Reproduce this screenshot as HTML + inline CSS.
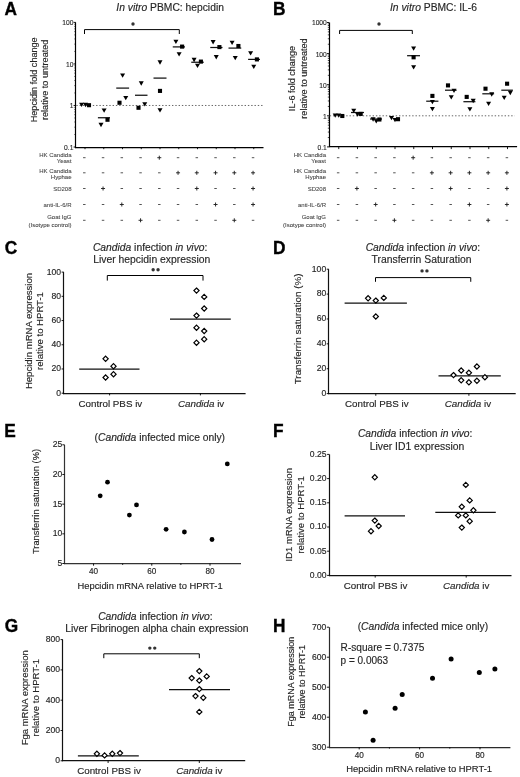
<!DOCTYPE html>
<html><head><meta charset="utf-8"><title>Figure</title>
<style>html,body{margin:0;padding:0;background:#fff;} body{width:520px;height:777px;overflow:hidden;} svg{display:block;will-change:transform;} text{font-family:"Liberation Sans", sans-serif;}</style>
</head><body>
<svg width="520" height="777" viewBox="0 0 520 777" font-family='"Liberation Sans", sans-serif'><line x1="75.50" y1="22.40" x2="75.50" y2="148.10" stroke="#000" stroke-width="1.2" />
<line x1="74.90" y1="147.50" x2="263.50" y2="147.50" stroke="#000" stroke-width="1.25" />
<line x1="73.60" y1="147.00" x2="75.80" y2="147.00" stroke="#000" stroke-width="0.9" />
<text x="73.40" y="149.90" font-size="6.7" text-anchor="end" fill="#262626" stroke="#262626" stroke-width="0.12" >0.1</text>
<line x1="74.40" y1="134.50" x2="75.80" y2="134.50" stroke="#000" stroke-width="0.7" />
<line x1="74.40" y1="127.18" x2="75.80" y2="127.18" stroke="#000" stroke-width="0.7" />
<line x1="74.40" y1="121.99" x2="75.80" y2="121.99" stroke="#000" stroke-width="0.7" />
<line x1="74.40" y1="117.97" x2="75.80" y2="117.97" stroke="#000" stroke-width="0.7" />
<line x1="74.40" y1="114.68" x2="75.80" y2="114.68" stroke="#000" stroke-width="0.7" />
<line x1="74.40" y1="111.90" x2="75.80" y2="111.90" stroke="#000" stroke-width="0.7" />
<line x1="74.40" y1="109.49" x2="75.80" y2="109.49" stroke="#000" stroke-width="0.7" />
<line x1="74.40" y1="107.37" x2="75.80" y2="107.37" stroke="#000" stroke-width="0.7" />
<line x1="73.60" y1="105.47" x2="75.80" y2="105.47" stroke="#000" stroke-width="0.9" />
<text x="73.40" y="108.37" font-size="6.7" text-anchor="end" fill="#262626" stroke="#262626" stroke-width="0.12" >1</text>
<line x1="74.40" y1="92.96" x2="75.80" y2="92.96" stroke="#000" stroke-width="0.7" />
<line x1="74.40" y1="85.65" x2="75.80" y2="85.65" stroke="#000" stroke-width="0.7" />
<line x1="74.40" y1="80.46" x2="75.80" y2="80.46" stroke="#000" stroke-width="0.7" />
<line x1="74.40" y1="76.44" x2="75.80" y2="76.44" stroke="#000" stroke-width="0.7" />
<line x1="74.40" y1="73.15" x2="75.80" y2="73.15" stroke="#000" stroke-width="0.7" />
<line x1="74.40" y1="70.37" x2="75.80" y2="70.37" stroke="#000" stroke-width="0.7" />
<line x1="74.40" y1="67.96" x2="75.80" y2="67.96" stroke="#000" stroke-width="0.7" />
<line x1="74.40" y1="65.83" x2="75.80" y2="65.83" stroke="#000" stroke-width="0.7" />
<line x1="73.60" y1="63.93" x2="75.80" y2="63.93" stroke="#000" stroke-width="0.9" />
<text x="73.40" y="66.83" font-size="6.7" text-anchor="end" fill="#262626" stroke="#262626" stroke-width="0.12" >10</text>
<line x1="74.40" y1="51.43" x2="75.80" y2="51.43" stroke="#000" stroke-width="0.7" />
<line x1="74.40" y1="44.12" x2="75.80" y2="44.12" stroke="#000" stroke-width="0.7" />
<line x1="74.40" y1="38.93" x2="75.80" y2="38.93" stroke="#000" stroke-width="0.7" />
<line x1="74.40" y1="34.90" x2="75.80" y2="34.90" stroke="#000" stroke-width="0.7" />
<line x1="74.40" y1="31.61" x2="75.80" y2="31.61" stroke="#000" stroke-width="0.7" />
<line x1="74.40" y1="28.83" x2="75.80" y2="28.83" stroke="#000" stroke-width="0.7" />
<line x1="74.40" y1="26.42" x2="75.80" y2="26.42" stroke="#000" stroke-width="0.7" />
<line x1="74.40" y1="24.30" x2="75.80" y2="24.30" stroke="#000" stroke-width="0.7" />
<line x1="73.60" y1="22.40" x2="75.80" y2="22.40" stroke="#000" stroke-width="0.9" />
<text x="73.40" y="25.30" font-size="6.7" text-anchor="end" fill="#262626" stroke="#262626" stroke-width="0.12" >100</text>
<line x1="85.00" y1="147.00" x2="85.00" y2="149.20" stroke="#000" stroke-width="0.9" />
<line x1="103.75" y1="147.00" x2="103.75" y2="149.20" stroke="#000" stroke-width="0.9" />
<line x1="122.50" y1="147.00" x2="122.50" y2="149.20" stroke="#000" stroke-width="0.9" />
<line x1="141.25" y1="147.00" x2="141.25" y2="149.20" stroke="#000" stroke-width="0.9" />
<line x1="160.00" y1="147.00" x2="160.00" y2="149.20" stroke="#000" stroke-width="0.9" />
<line x1="178.75" y1="147.00" x2="178.75" y2="149.20" stroke="#000" stroke-width="0.9" />
<line x1="197.50" y1="147.00" x2="197.50" y2="149.20" stroke="#000" stroke-width="0.9" />
<line x1="216.25" y1="147.00" x2="216.25" y2="149.20" stroke="#000" stroke-width="0.9" />
<line x1="235.00" y1="147.00" x2="235.00" y2="149.20" stroke="#000" stroke-width="0.9" />
<line x1="253.75" y1="147.00" x2="253.75" y2="149.20" stroke="#000" stroke-width="0.9" />
<line x1="76.30" y1="105.47" x2="263.00" y2="105.47" stroke="#666" stroke-width="1.0" stroke-dasharray="1.4 1.9"/>
<path d="M84.5 34V29.6H179.3V34" fill="none" stroke="#000" stroke-width="1"/>
<circle cx="133.00" cy="24.00" r="1.7" fill="#333"/>
<text x="116.30" y="11.00" font-size="10.3" text-anchor="start" fill="#262626" stroke="#262626" stroke-width="0.15" ><tspan font-style="italic">In vitro</tspan> PBMC: hepcidin</text>
<text x="36.60" y="79.80" font-size="9.1" text-anchor="middle" fill="#262626" stroke="#262626" stroke-width="0.15" transform="rotate(-90 36.60 79.80)" >Hepcidin fold change</text>
<text x="47.60" y="79.80" font-size="9.1" text-anchor="middle" fill="#262626" stroke="#262626" stroke-width="0.15" transform="rotate(-90 47.60 79.80)" >relative to untreated</text>
<text x="71.50" y="156.80" font-size="6.0" text-anchor="end" fill="#444" stroke="#444" stroke-width="0.08" >HK Candida</text>
<text x="71.50" y="163.40" font-size="6.0" text-anchor="end" fill="#444" stroke="#444" stroke-width="0.08" >Yeast</text>
<text x="71.50" y="172.60" font-size="6.0" text-anchor="end" fill="#444" stroke="#444" stroke-width="0.08" >HK Candida</text>
<text x="71.50" y="179.00" font-size="6.0" text-anchor="end" fill="#444" stroke="#444" stroke-width="0.08" >Hyphae</text>
<text x="71.50" y="191.10" font-size="6.0" text-anchor="end" fill="#444" stroke="#444" stroke-width="0.08" >SD208</text>
<text x="71.50" y="206.70" font-size="6.0" text-anchor="end" fill="#444" stroke="#444" stroke-width="0.08" >anti-IL-6/R</text>
<text x="71.50" y="218.60" font-size="6.0" text-anchor="end" fill="#444" stroke="#444" stroke-width="0.08" >Goat IgG</text>
<text x="71.50" y="226.50" font-size="6.0" text-anchor="end" fill="#444" stroke="#444" stroke-width="0.08" >(Isotype control)</text>
<line x1="83.05" y1="157.70" x2="85.55" y2="157.70" stroke="#555" stroke-width="1.0" />
<line x1="101.80" y1="157.70" x2="104.30" y2="157.70" stroke="#555" stroke-width="1.0" />
<line x1="120.55" y1="157.70" x2="123.05" y2="157.70" stroke="#555" stroke-width="1.0" />
<line x1="139.30" y1="157.70" x2="141.80" y2="157.70" stroke="#555" stroke-width="1.0" />
<line x1="157.30" y1="157.70" x2="161.30" y2="157.70" stroke="#222" stroke-width="0.95" />
<line x1="159.30" y1="155.70" x2="159.30" y2="159.70" stroke="#222" stroke-width="0.95" />
<line x1="176.80" y1="157.70" x2="179.30" y2="157.70" stroke="#555" stroke-width="1.0" />
<line x1="195.55" y1="157.70" x2="198.05" y2="157.70" stroke="#555" stroke-width="1.0" />
<line x1="214.30" y1="157.70" x2="216.80" y2="157.70" stroke="#555" stroke-width="1.0" />
<line x1="233.05" y1="157.70" x2="235.55" y2="157.70" stroke="#555" stroke-width="1.0" />
<line x1="251.80" y1="157.70" x2="254.30" y2="157.70" stroke="#555" stroke-width="1.0" />
<line x1="83.05" y1="172.80" x2="85.55" y2="172.80" stroke="#555" stroke-width="1.0" />
<line x1="101.80" y1="172.80" x2="104.30" y2="172.80" stroke="#555" stroke-width="1.0" />
<line x1="120.55" y1="172.80" x2="123.05" y2="172.80" stroke="#555" stroke-width="1.0" />
<line x1="139.30" y1="172.80" x2="141.80" y2="172.80" stroke="#555" stroke-width="1.0" />
<line x1="158.05" y1="172.80" x2="160.55" y2="172.80" stroke="#555" stroke-width="1.0" />
<line x1="176.05" y1="172.80" x2="180.05" y2="172.80" stroke="#222" stroke-width="0.95" />
<line x1="178.05" y1="170.80" x2="178.05" y2="174.80" stroke="#222" stroke-width="0.95" />
<line x1="194.80" y1="172.80" x2="198.80" y2="172.80" stroke="#222" stroke-width="0.95" />
<line x1="196.80" y1="170.80" x2="196.80" y2="174.80" stroke="#222" stroke-width="0.95" />
<line x1="213.55" y1="172.80" x2="217.55" y2="172.80" stroke="#222" stroke-width="0.95" />
<line x1="215.55" y1="170.80" x2="215.55" y2="174.80" stroke="#222" stroke-width="0.95" />
<line x1="232.30" y1="172.80" x2="236.30" y2="172.80" stroke="#222" stroke-width="0.95" />
<line x1="234.30" y1="170.80" x2="234.30" y2="174.80" stroke="#222" stroke-width="0.95" />
<line x1="251.05" y1="172.80" x2="255.05" y2="172.80" stroke="#222" stroke-width="0.95" />
<line x1="253.05" y1="170.80" x2="253.05" y2="174.80" stroke="#222" stroke-width="0.95" />
<line x1="83.05" y1="188.50" x2="85.55" y2="188.50" stroke="#555" stroke-width="1.0" />
<line x1="101.05" y1="188.50" x2="105.05" y2="188.50" stroke="#222" stroke-width="0.95" />
<line x1="103.05" y1="186.50" x2="103.05" y2="190.50" stroke="#222" stroke-width="0.95" />
<line x1="120.55" y1="188.50" x2="123.05" y2="188.50" stroke="#555" stroke-width="1.0" />
<line x1="139.30" y1="188.50" x2="141.80" y2="188.50" stroke="#555" stroke-width="1.0" />
<line x1="158.05" y1="188.50" x2="160.55" y2="188.50" stroke="#555" stroke-width="1.0" />
<line x1="176.80" y1="188.50" x2="179.30" y2="188.50" stroke="#555" stroke-width="1.0" />
<line x1="194.80" y1="188.50" x2="198.80" y2="188.50" stroke="#222" stroke-width="0.95" />
<line x1="196.80" y1="186.50" x2="196.80" y2="190.50" stroke="#222" stroke-width="0.95" />
<line x1="214.30" y1="188.50" x2="216.80" y2="188.50" stroke="#555" stroke-width="1.0" />
<line x1="233.05" y1="188.50" x2="235.55" y2="188.50" stroke="#555" stroke-width="1.0" />
<line x1="251.05" y1="188.50" x2="255.05" y2="188.50" stroke="#222" stroke-width="0.95" />
<line x1="253.05" y1="186.50" x2="253.05" y2="190.50" stroke="#222" stroke-width="0.95" />
<line x1="83.05" y1="204.50" x2="85.55" y2="204.50" stroke="#555" stroke-width="1.0" />
<line x1="101.80" y1="204.50" x2="104.30" y2="204.50" stroke="#555" stroke-width="1.0" />
<line x1="119.80" y1="204.50" x2="123.80" y2="204.50" stroke="#222" stroke-width="0.95" />
<line x1="121.80" y1="202.50" x2="121.80" y2="206.50" stroke="#222" stroke-width="0.95" />
<line x1="139.30" y1="204.50" x2="141.80" y2="204.50" stroke="#555" stroke-width="1.0" />
<line x1="158.05" y1="204.50" x2="160.55" y2="204.50" stroke="#555" stroke-width="1.0" />
<line x1="176.80" y1="204.50" x2="179.30" y2="204.50" stroke="#555" stroke-width="1.0" />
<line x1="195.55" y1="204.50" x2="198.05" y2="204.50" stroke="#555" stroke-width="1.0" />
<line x1="213.55" y1="204.50" x2="217.55" y2="204.50" stroke="#222" stroke-width="0.95" />
<line x1="215.55" y1="202.50" x2="215.55" y2="206.50" stroke="#222" stroke-width="0.95" />
<line x1="233.05" y1="204.50" x2="235.55" y2="204.50" stroke="#555" stroke-width="1.0" />
<line x1="251.05" y1="204.50" x2="255.05" y2="204.50" stroke="#222" stroke-width="0.95" />
<line x1="253.05" y1="202.50" x2="253.05" y2="206.50" stroke="#222" stroke-width="0.95" />
<line x1="83.05" y1="220.30" x2="85.55" y2="220.30" stroke="#555" stroke-width="1.0" />
<line x1="101.80" y1="220.30" x2="104.30" y2="220.30" stroke="#555" stroke-width="1.0" />
<line x1="120.55" y1="220.30" x2="123.05" y2="220.30" stroke="#555" stroke-width="1.0" />
<line x1="138.55" y1="220.30" x2="142.55" y2="220.30" stroke="#222" stroke-width="0.95" />
<line x1="140.55" y1="218.30" x2="140.55" y2="222.30" stroke="#222" stroke-width="0.95" />
<line x1="158.05" y1="220.30" x2="160.55" y2="220.30" stroke="#555" stroke-width="1.0" />
<line x1="176.80" y1="220.30" x2="179.30" y2="220.30" stroke="#555" stroke-width="1.0" />
<line x1="195.55" y1="220.30" x2="198.05" y2="220.30" stroke="#555" stroke-width="1.0" />
<line x1="214.30" y1="220.30" x2="216.80" y2="220.30" stroke="#555" stroke-width="1.0" />
<line x1="232.30" y1="220.30" x2="236.30" y2="220.30" stroke="#222" stroke-width="0.95" />
<line x1="234.30" y1="218.30" x2="234.30" y2="222.30" stroke="#222" stroke-width="0.95" />
<line x1="251.80" y1="220.30" x2="254.30" y2="220.30" stroke="#555" stroke-width="1.0" />
<line x1="97.90" y1="117.75" x2="110.00" y2="117.75" stroke="#111" stroke-width="1.25" />
<line x1="116.25" y1="88.10" x2="129.10" y2="88.10" stroke="#111" stroke-width="1.25" />
<line x1="135.00" y1="95.25" x2="147.50" y2="95.25" stroke="#111" stroke-width="1.25" />
<line x1="153.50" y1="78.10" x2="166.50" y2="78.10" stroke="#111" stroke-width="1.25" />
<line x1="172.75" y1="46.90" x2="185.00" y2="46.90" stroke="#111" stroke-width="1.25" />
<line x1="191.25" y1="62.25" x2="203.75" y2="62.25" stroke="#111" stroke-width="1.25" />
<line x1="210.25" y1="47.50" x2="222.50" y2="47.50" stroke="#111" stroke-width="1.25" />
<line x1="228.50" y1="48.10" x2="241.25" y2="48.10" stroke="#111" stroke-width="1.25" />
<line x1="248.10" y1="59.40" x2="260.00" y2="59.40" stroke="#111" stroke-width="1.25" />
<path d="M79.10 102.75H84.10L81.60 107.05Z" fill="#000"/>
<path d="M83.00 102.85H88.00L85.50 107.15Z" fill="#000"/>
<rect x="86.95" y="103.15" width="4.1" height="4.1" fill="#000"/>
<path d="M101.60 108.45H106.60L104.10 112.75Z" fill="#000"/>
<path d="M98.50 122.85H103.50L101.00 127.15Z" fill="#000"/>
<rect x="105.45" y="117.70" width="4.1" height="4.1" fill="#000"/>
<path d="M120.10 73.45H125.10L122.60 77.75Z" fill="#000"/>
<path d="M123.25 95.95H128.25L125.75 100.25Z" fill="#000"/>
<rect x="117.45" y="100.70" width="4.1" height="4.1" fill="#000"/>
<path d="M138.75 81.35H143.75L141.25 85.65Z" fill="#000"/>
<path d="M142.25 102.25H147.25L144.75 106.55Z" fill="#000"/>
<rect x="136.45" y="105.70" width="4.1" height="4.1" fill="#000"/>
<path d="M157.50 60.35H162.50L160.00 64.65Z" fill="#000"/>
<path d="M157.50 108.25H162.50L160.00 112.55Z" fill="#000"/>
<rect x="157.95" y="88.85" width="4.1" height="4.1" fill="#000"/>
<path d="M173.40 39.75H178.40L175.90 44.05Z" fill="#000"/>
<path d="M176.60 52.25H181.60L179.10 56.55Z" fill="#000"/>
<rect x="180.05" y="44.55" width="4.1" height="4.1" fill="#000"/>
<path d="M191.60 57.85H196.60L194.10 62.15Z" fill="#000"/>
<path d="M195.00 63.75H200.00L197.50 68.05Z" fill="#000"/>
<rect x="198.85" y="59.55" width="4.1" height="4.1" fill="#000"/>
<path d="M210.60 40.10H215.60L213.10 44.40Z" fill="#000"/>
<path d="M213.75 55.10H218.75L216.25 59.40Z" fill="#000"/>
<rect x="217.35" y="45.05" width="4.1" height="4.1" fill="#000"/>
<path d="M229.60 40.75H234.60L232.10 45.05Z" fill="#000"/>
<path d="M232.75 55.95H237.75L235.25 60.25Z" fill="#000"/>
<rect x="236.35" y="43.95" width="4.1" height="4.1" fill="#000"/>
<path d="M248.10 51.25H253.10L250.60 55.55Z" fill="#000"/>
<path d="M251.25 64.75H256.25L253.75 69.05Z" fill="#000"/>
<rect x="254.85" y="57.35" width="4.1" height="4.1" fill="#000"/>
<line x1="329.50" y1="22.50" x2="329.50" y2="147.10" stroke="#000" stroke-width="1.2" />
<line x1="328.90" y1="146.50" x2="517.10" y2="146.50" stroke="#000" stroke-width="1.25" />
<line x1="327.00" y1="146.90" x2="329.20" y2="146.90" stroke="#000" stroke-width="0.9" />
<text x="326.80" y="149.80" font-size="6.7" text-anchor="end" fill="#262626" stroke="#262626" stroke-width="0.12" >0.1</text>
<line x1="327.80" y1="137.54" x2="329.20" y2="137.54" stroke="#000" stroke-width="0.7" />
<line x1="327.80" y1="132.06" x2="329.20" y2="132.06" stroke="#000" stroke-width="0.7" />
<line x1="327.80" y1="128.18" x2="329.20" y2="128.18" stroke="#000" stroke-width="0.7" />
<line x1="327.80" y1="125.16" x2="329.20" y2="125.16" stroke="#000" stroke-width="0.7" />
<line x1="327.80" y1="122.70" x2="329.20" y2="122.70" stroke="#000" stroke-width="0.7" />
<line x1="327.80" y1="120.62" x2="329.20" y2="120.62" stroke="#000" stroke-width="0.7" />
<line x1="327.80" y1="118.81" x2="329.20" y2="118.81" stroke="#000" stroke-width="0.7" />
<line x1="327.80" y1="117.22" x2="329.20" y2="117.22" stroke="#000" stroke-width="0.7" />
<line x1="327.00" y1="115.80" x2="329.20" y2="115.80" stroke="#000" stroke-width="0.9" />
<text x="326.80" y="118.70" font-size="6.7" text-anchor="end" fill="#262626" stroke="#262626" stroke-width="0.12" >1</text>
<line x1="327.80" y1="106.44" x2="329.20" y2="106.44" stroke="#000" stroke-width="0.7" />
<line x1="327.80" y1="100.96" x2="329.20" y2="100.96" stroke="#000" stroke-width="0.7" />
<line x1="327.80" y1="97.08" x2="329.20" y2="97.08" stroke="#000" stroke-width="0.7" />
<line x1="327.80" y1="94.06" x2="329.20" y2="94.06" stroke="#000" stroke-width="0.7" />
<line x1="327.80" y1="91.60" x2="329.20" y2="91.60" stroke="#000" stroke-width="0.7" />
<line x1="327.80" y1="89.52" x2="329.20" y2="89.52" stroke="#000" stroke-width="0.7" />
<line x1="327.80" y1="87.71" x2="329.20" y2="87.71" stroke="#000" stroke-width="0.7" />
<line x1="327.80" y1="86.12" x2="329.20" y2="86.12" stroke="#000" stroke-width="0.7" />
<line x1="327.00" y1="84.70" x2="329.20" y2="84.70" stroke="#000" stroke-width="0.9" />
<text x="326.80" y="87.60" font-size="6.7" text-anchor="end" fill="#262626" stroke="#262626" stroke-width="0.12" >10</text>
<line x1="327.80" y1="75.34" x2="329.20" y2="75.34" stroke="#000" stroke-width="0.7" />
<line x1="327.80" y1="69.86" x2="329.20" y2="69.86" stroke="#000" stroke-width="0.7" />
<line x1="327.80" y1="65.98" x2="329.20" y2="65.98" stroke="#000" stroke-width="0.7" />
<line x1="327.80" y1="62.96" x2="329.20" y2="62.96" stroke="#000" stroke-width="0.7" />
<line x1="327.80" y1="60.50" x2="329.20" y2="60.50" stroke="#000" stroke-width="0.7" />
<line x1="327.80" y1="58.42" x2="329.20" y2="58.42" stroke="#000" stroke-width="0.7" />
<line x1="327.80" y1="56.61" x2="329.20" y2="56.61" stroke="#000" stroke-width="0.7" />
<line x1="327.80" y1="55.02" x2="329.20" y2="55.02" stroke="#000" stroke-width="0.7" />
<line x1="327.00" y1="53.60" x2="329.20" y2="53.60" stroke="#000" stroke-width="0.9" />
<text x="326.80" y="56.50" font-size="6.7" text-anchor="end" fill="#262626" stroke="#262626" stroke-width="0.12" >100</text>
<line x1="327.80" y1="44.24" x2="329.20" y2="44.24" stroke="#000" stroke-width="0.7" />
<line x1="327.80" y1="38.76" x2="329.20" y2="38.76" stroke="#000" stroke-width="0.7" />
<line x1="327.80" y1="34.88" x2="329.20" y2="34.88" stroke="#000" stroke-width="0.7" />
<line x1="327.80" y1="31.86" x2="329.20" y2="31.86" stroke="#000" stroke-width="0.7" />
<line x1="327.80" y1="29.40" x2="329.20" y2="29.40" stroke="#000" stroke-width="0.7" />
<line x1="327.80" y1="27.32" x2="329.20" y2="27.32" stroke="#000" stroke-width="0.7" />
<line x1="327.80" y1="25.51" x2="329.20" y2="25.51" stroke="#000" stroke-width="0.7" />
<line x1="327.80" y1="23.92" x2="329.20" y2="23.92" stroke="#000" stroke-width="0.7" />
<line x1="327.00" y1="22.50" x2="329.20" y2="22.50" stroke="#000" stroke-width="0.9" />
<text x="326.80" y="25.40" font-size="6.7" text-anchor="end" fill="#262626" stroke="#262626" stroke-width="0.12" >1000</text>
<line x1="338.75" y1="146.90" x2="338.75" y2="149.10" stroke="#000" stroke-width="0.9" />
<line x1="357.50" y1="146.90" x2="357.50" y2="149.10" stroke="#000" stroke-width="0.9" />
<line x1="376.25" y1="146.90" x2="376.25" y2="149.10" stroke="#000" stroke-width="0.9" />
<line x1="395.00" y1="146.90" x2="395.00" y2="149.10" stroke="#000" stroke-width="0.9" />
<line x1="413.75" y1="146.90" x2="413.75" y2="149.10" stroke="#000" stroke-width="0.9" />
<line x1="432.50" y1="146.90" x2="432.50" y2="149.10" stroke="#000" stroke-width="0.9" />
<line x1="451.25" y1="146.90" x2="451.25" y2="149.10" stroke="#000" stroke-width="0.9" />
<line x1="470.00" y1="146.90" x2="470.00" y2="149.10" stroke="#000" stroke-width="0.9" />
<line x1="488.75" y1="146.90" x2="488.75" y2="149.10" stroke="#000" stroke-width="0.9" />
<line x1="507.50" y1="146.90" x2="507.50" y2="149.10" stroke="#000" stroke-width="0.9" />
<line x1="329.70" y1="115.80" x2="514.70" y2="115.80" stroke="#666" stroke-width="1.0" stroke-dasharray="1.4 1.9"/>
<path d="M339.6 34V30.4H412.3V34" fill="none" stroke="#000" stroke-width="1"/>
<circle cx="379.00" cy="24.00" r="1.7" fill="#333"/>
<text x="390.00" y="11.00" font-size="10.3" text-anchor="start" fill="#262626" stroke="#262626" stroke-width="0.15" ><tspan font-style="italic">In vitro</tspan> PBMC: IL-6</text>
<text x="295.10" y="78.50" font-size="9.1" text-anchor="middle" fill="#262626" stroke="#262626" stroke-width="0.15" transform="rotate(-90 295.10 78.50)" >IL-6 fold change</text>
<text x="307.40" y="78.50" font-size="9.1" text-anchor="middle" fill="#262626" stroke="#262626" stroke-width="0.15" transform="rotate(-90 307.40 78.50)" >relative to untreated</text>
<text x="326.00" y="156.80" font-size="6.0" text-anchor="end" fill="#444" stroke="#444" stroke-width="0.08" >HK Candida</text>
<text x="326.00" y="163.40" font-size="6.0" text-anchor="end" fill="#444" stroke="#444" stroke-width="0.08" >Yeast</text>
<text x="326.00" y="172.60" font-size="6.0" text-anchor="end" fill="#444" stroke="#444" stroke-width="0.08" >HK Candida</text>
<text x="326.00" y="179.00" font-size="6.0" text-anchor="end" fill="#444" stroke="#444" stroke-width="0.08" >Hyphae</text>
<text x="326.00" y="191.10" font-size="6.0" text-anchor="end" fill="#444" stroke="#444" stroke-width="0.08" >SD208</text>
<text x="326.00" y="206.70" font-size="6.0" text-anchor="end" fill="#444" stroke="#444" stroke-width="0.08" >anti-IL-6/R</text>
<text x="326.00" y="218.60" font-size="6.0" text-anchor="end" fill="#444" stroke="#444" stroke-width="0.08" >Goat IgG</text>
<text x="326.00" y="226.50" font-size="6.0" text-anchor="end" fill="#444" stroke="#444" stroke-width="0.08" >(Isotype control)</text>
<line x1="336.90" y1="157.70" x2="339.40" y2="157.70" stroke="#555" stroke-width="1.0" />
<line x1="355.65" y1="157.70" x2="358.15" y2="157.70" stroke="#555" stroke-width="1.0" />
<line x1="374.40" y1="157.70" x2="376.90" y2="157.70" stroke="#555" stroke-width="1.0" />
<line x1="393.15" y1="157.70" x2="395.65" y2="157.70" stroke="#555" stroke-width="1.0" />
<line x1="411.15" y1="157.70" x2="415.15" y2="157.70" stroke="#222" stroke-width="0.95" />
<line x1="413.15" y1="155.70" x2="413.15" y2="159.70" stroke="#222" stroke-width="0.95" />
<line x1="430.65" y1="157.70" x2="433.15" y2="157.70" stroke="#555" stroke-width="1.0" />
<line x1="449.40" y1="157.70" x2="451.90" y2="157.70" stroke="#555" stroke-width="1.0" />
<line x1="468.15" y1="157.70" x2="470.65" y2="157.70" stroke="#555" stroke-width="1.0" />
<line x1="486.90" y1="157.70" x2="489.40" y2="157.70" stroke="#555" stroke-width="1.0" />
<line x1="505.65" y1="157.70" x2="508.15" y2="157.70" stroke="#555" stroke-width="1.0" />
<line x1="336.90" y1="172.80" x2="339.40" y2="172.80" stroke="#555" stroke-width="1.0" />
<line x1="355.65" y1="172.80" x2="358.15" y2="172.80" stroke="#555" stroke-width="1.0" />
<line x1="374.40" y1="172.80" x2="376.90" y2="172.80" stroke="#555" stroke-width="1.0" />
<line x1="393.15" y1="172.80" x2="395.65" y2="172.80" stroke="#555" stroke-width="1.0" />
<line x1="411.90" y1="172.80" x2="414.40" y2="172.80" stroke="#555" stroke-width="1.0" />
<line x1="429.90" y1="172.80" x2="433.90" y2="172.80" stroke="#222" stroke-width="0.95" />
<line x1="431.90" y1="170.80" x2="431.90" y2="174.80" stroke="#222" stroke-width="0.95" />
<line x1="448.65" y1="172.80" x2="452.65" y2="172.80" stroke="#222" stroke-width="0.95" />
<line x1="450.65" y1="170.80" x2="450.65" y2="174.80" stroke="#222" stroke-width="0.95" />
<line x1="467.40" y1="172.80" x2="471.40" y2="172.80" stroke="#222" stroke-width="0.95" />
<line x1="469.40" y1="170.80" x2="469.40" y2="174.80" stroke="#222" stroke-width="0.95" />
<line x1="486.15" y1="172.80" x2="490.15" y2="172.80" stroke="#222" stroke-width="0.95" />
<line x1="488.15" y1="170.80" x2="488.15" y2="174.80" stroke="#222" stroke-width="0.95" />
<line x1="504.90" y1="172.80" x2="508.90" y2="172.80" stroke="#222" stroke-width="0.95" />
<line x1="506.90" y1="170.80" x2="506.90" y2="174.80" stroke="#222" stroke-width="0.95" />
<line x1="336.90" y1="188.50" x2="339.40" y2="188.50" stroke="#555" stroke-width="1.0" />
<line x1="354.90" y1="188.50" x2="358.90" y2="188.50" stroke="#222" stroke-width="0.95" />
<line x1="356.90" y1="186.50" x2="356.90" y2="190.50" stroke="#222" stroke-width="0.95" />
<line x1="374.40" y1="188.50" x2="376.90" y2="188.50" stroke="#555" stroke-width="1.0" />
<line x1="393.15" y1="188.50" x2="395.65" y2="188.50" stroke="#555" stroke-width="1.0" />
<line x1="411.90" y1="188.50" x2="414.40" y2="188.50" stroke="#555" stroke-width="1.0" />
<line x1="430.65" y1="188.50" x2="433.15" y2="188.50" stroke="#555" stroke-width="1.0" />
<line x1="448.65" y1="188.50" x2="452.65" y2="188.50" stroke="#222" stroke-width="0.95" />
<line x1="450.65" y1="186.50" x2="450.65" y2="190.50" stroke="#222" stroke-width="0.95" />
<line x1="468.15" y1="188.50" x2="470.65" y2="188.50" stroke="#555" stroke-width="1.0" />
<line x1="486.90" y1="188.50" x2="489.40" y2="188.50" stroke="#555" stroke-width="1.0" />
<line x1="504.90" y1="188.50" x2="508.90" y2="188.50" stroke="#222" stroke-width="0.95" />
<line x1="506.90" y1="186.50" x2="506.90" y2="190.50" stroke="#222" stroke-width="0.95" />
<line x1="336.90" y1="204.50" x2="339.40" y2="204.50" stroke="#555" stroke-width="1.0" />
<line x1="355.65" y1="204.50" x2="358.15" y2="204.50" stroke="#555" stroke-width="1.0" />
<line x1="373.65" y1="204.50" x2="377.65" y2="204.50" stroke="#222" stroke-width="0.95" />
<line x1="375.65" y1="202.50" x2="375.65" y2="206.50" stroke="#222" stroke-width="0.95" />
<line x1="393.15" y1="204.50" x2="395.65" y2="204.50" stroke="#555" stroke-width="1.0" />
<line x1="411.90" y1="204.50" x2="414.40" y2="204.50" stroke="#555" stroke-width="1.0" />
<line x1="430.65" y1="204.50" x2="433.15" y2="204.50" stroke="#555" stroke-width="1.0" />
<line x1="449.40" y1="204.50" x2="451.90" y2="204.50" stroke="#555" stroke-width="1.0" />
<line x1="467.40" y1="204.50" x2="471.40" y2="204.50" stroke="#222" stroke-width="0.95" />
<line x1="469.40" y1="202.50" x2="469.40" y2="206.50" stroke="#222" stroke-width="0.95" />
<line x1="486.90" y1="204.50" x2="489.40" y2="204.50" stroke="#555" stroke-width="1.0" />
<line x1="504.90" y1="204.50" x2="508.90" y2="204.50" stroke="#222" stroke-width="0.95" />
<line x1="506.90" y1="202.50" x2="506.90" y2="206.50" stroke="#222" stroke-width="0.95" />
<line x1="336.90" y1="220.30" x2="339.40" y2="220.30" stroke="#555" stroke-width="1.0" />
<line x1="355.65" y1="220.30" x2="358.15" y2="220.30" stroke="#555" stroke-width="1.0" />
<line x1="374.40" y1="220.30" x2="376.90" y2="220.30" stroke="#555" stroke-width="1.0" />
<line x1="392.40" y1="220.30" x2="396.40" y2="220.30" stroke="#222" stroke-width="0.95" />
<line x1="394.40" y1="218.30" x2="394.40" y2="222.30" stroke="#222" stroke-width="0.95" />
<line x1="411.90" y1="220.30" x2="414.40" y2="220.30" stroke="#555" stroke-width="1.0" />
<line x1="430.65" y1="220.30" x2="433.15" y2="220.30" stroke="#555" stroke-width="1.0" />
<line x1="449.40" y1="220.30" x2="451.90" y2="220.30" stroke="#555" stroke-width="1.0" />
<line x1="468.15" y1="220.30" x2="470.65" y2="220.30" stroke="#555" stroke-width="1.0" />
<line x1="486.15" y1="220.30" x2="490.15" y2="220.30" stroke="#222" stroke-width="0.95" />
<line x1="488.15" y1="218.30" x2="488.15" y2="222.30" stroke="#222" stroke-width="0.95" />
<line x1="505.65" y1="220.30" x2="508.15" y2="220.30" stroke="#555" stroke-width="1.0" />
<line x1="351.00" y1="112.50" x2="364.00" y2="112.50" stroke="#111" stroke-width="1.25" />
<line x1="370.00" y1="119.00" x2="382.00" y2="119.00" stroke="#111" stroke-width="1.25" />
<line x1="407.10" y1="55.70" x2="420.00" y2="55.70" stroke="#111" stroke-width="1.25" />
<line x1="426.20" y1="101.20" x2="438.40" y2="101.20" stroke="#111" stroke-width="1.25" />
<line x1="445.00" y1="90.20" x2="456.60" y2="90.20" stroke="#111" stroke-width="1.25" />
<line x1="463.40" y1="101.70" x2="475.40" y2="101.70" stroke="#111" stroke-width="1.25" />
<line x1="482.30" y1="93.80" x2="494.10" y2="93.80" stroke="#111" stroke-width="1.25" />
<line x1="501.30" y1="90.20" x2="512.90" y2="90.20" stroke="#111" stroke-width="1.25" />
<path d="M332.70 113.45H337.70L335.20 117.75Z" fill="#000"/>
<path d="M336.25 113.45H341.25L338.75 117.75Z" fill="#000"/>
<rect x="340.25" y="113.95" width="4.1" height="4.1" fill="#000"/>
<path d="M351.25 108.75H356.25L353.75 113.05Z" fill="#000"/>
<path d="M355.00 112.45H360.00L357.50 116.75Z" fill="#000"/>
<rect x="358.65" y="111.85" width="4.1" height="4.1" fill="#000"/>
<path d="M370.60 117.35H375.60L373.10 121.65Z" fill="#000"/>
<path d="M373.75 119.15H378.75L376.25 123.45Z" fill="#000"/>
<rect x="377.35" y="117.45" width="4.1" height="4.1" fill="#000"/>
<path d="M389.00 116.05H394.00L391.50 120.35Z" fill="#000"/>
<path d="M392.50 118.05H397.50L395.00 122.35Z" fill="#000"/>
<rect x="395.95" y="117.15" width="4.1" height="4.1" fill="#000"/>
<path d="M411.10 46.55H416.10L413.60 50.85Z" fill="#000"/>
<rect x="411.55" y="55.25" width="4.1" height="4.1" fill="#000"/>
<path d="M411.10 65.15H416.10L413.60 69.45Z" fill="#000"/>
<rect x="430.35" y="93.85" width="4.1" height="4.1" fill="#000"/>
<path d="M429.90 99.95H434.90L432.40 104.25Z" fill="#000"/>
<path d="M429.90 107.05H434.90L432.40 111.35Z" fill="#000"/>
<rect x="445.95" y="83.35" width="4.1" height="4.1" fill="#000"/>
<path d="M451.50 88.75H456.50L454.00 93.05Z" fill="#000"/>
<path d="M448.75 95.25H453.75L451.25 99.55Z" fill="#000"/>
<rect x="464.65" y="94.85" width="4.1" height="4.1" fill="#000"/>
<path d="M470.70 98.85H475.70L473.20 103.15Z" fill="#000"/>
<path d="M467.40 107.15H472.40L469.90 111.45Z" fill="#000"/>
<rect x="483.45" y="86.65" width="4.1" height="4.1" fill="#000"/>
<path d="M489.20 92.35H494.20L491.70 96.65Z" fill="#000"/>
<path d="M486.10 101.75H491.10L488.60 106.05Z" fill="#000"/>
<rect x="505.05" y="81.65" width="4.1" height="4.1" fill="#000"/>
<path d="M507.80 90.85H512.80L510.30 95.15Z" fill="#000"/>
<path d="M501.70 95.65H506.70L504.20 99.95Z" fill="#000"/>
<text transform="translate(4.40 15.20) scale(1 1.08)" font-size="17.3" font-weight="bold" fill="#000" style="stroke:#000;stroke-width:0.35px">A</text>
<text transform="translate(273.10 15.40) scale(1 1.08)" font-size="17.3" font-weight="bold" fill="#000" style="stroke:#000;stroke-width:0.35px">B</text>
<text transform="translate(4.70 253.80) scale(1 1.08)" font-size="17.3" font-weight="bold" fill="#000" style="stroke:#000;stroke-width:0.35px">C</text>
<text x="150.15" y="250.50" font-size="10.3" text-anchor="middle" fill="#262626" stroke="#262626" stroke-width="0.15" ><tspan font-style="italic">Candida</tspan> infection <tspan font-style="italic">in vivo</tspan>:</text>
<text x="151.70" y="262.90" font-size="10.38" text-anchor="middle" fill="#262626" stroke="#262626" stroke-width="0.15" >Liver hepcidin expression</text>
<line x1="63.50" y1="272.10" x2="63.50" y2="394.10" stroke="#111" stroke-width="1.2" />
<line x1="62.90" y1="393.50" x2="245.60" y2="393.50" stroke="#111" stroke-width="1.25" />
<line x1="61.60" y1="393.20" x2="63.80" y2="393.20" stroke="#000" stroke-width="0.9" />
<text x="61.10" y="395.60" font-size="8.6" text-anchor="end" fill="#262626" stroke="#262626" stroke-width="0.15" >0</text>
<line x1="61.60" y1="368.98" x2="63.80" y2="368.98" stroke="#000" stroke-width="0.9" />
<text x="61.10" y="371.38" font-size="8.6" text-anchor="end" fill="#262626" stroke="#262626" stroke-width="0.15" >20</text>
<line x1="61.60" y1="344.76" x2="63.80" y2="344.76" stroke="#000" stroke-width="0.9" />
<text x="61.10" y="347.16" font-size="8.6" text-anchor="end" fill="#262626" stroke="#262626" stroke-width="0.15" >40</text>
<line x1="61.60" y1="320.54" x2="63.80" y2="320.54" stroke="#000" stroke-width="0.9" />
<text x="61.10" y="322.94" font-size="8.6" text-anchor="end" fill="#262626" stroke="#262626" stroke-width="0.15" >60</text>
<line x1="61.60" y1="296.32" x2="63.80" y2="296.32" stroke="#000" stroke-width="0.9" />
<text x="61.10" y="298.72" font-size="8.6" text-anchor="end" fill="#262626" stroke="#262626" stroke-width="0.15" >80</text>
<line x1="61.60" y1="272.10" x2="63.80" y2="272.10" stroke="#000" stroke-width="0.9" />
<text x="61.10" y="274.50" font-size="8.6" text-anchor="end" fill="#262626" stroke="#262626" stroke-width="0.15" >100</text>
<text x="32.10" y="331.00" font-size="9.55" text-anchor="middle" fill="#262626" stroke="#262626" stroke-width="0.15" transform="rotate(-90 32.10 331.00)" >Hepcidin mRNA expression</text>
<text x="43.30" y="331.00" font-size="9.55" text-anchor="middle" fill="#262626" stroke="#262626" stroke-width="0.15" transform="rotate(-90 43.30 331.00)" >relative to HPRT-1</text>
<path d="M107.3 280.6V275.5H203V280.6" fill="none" stroke="#000" stroke-width="1"/>
<circle cx="153.15" cy="269.80" r="1.7" fill="#333"/>
<circle cx="158.05" cy="269.80" r="1.7" fill="#333"/>
<line x1="109.60" y1="393.20" x2="109.60" y2="395.40" stroke="#000" stroke-width="0.9" />
<text x="110.40" y="406.70" font-size="9.8" text-anchor="middle" fill="#262626" stroke="#262626" stroke-width="0.15" >Control PBS iv</text>
<line x1="200.40" y1="393.20" x2="200.40" y2="395.40" stroke="#000" stroke-width="0.9" />
<text x="201.10" y="406.70" font-size="9.8" text-anchor="middle" fill="#262626" stroke="#262626" stroke-width="0.15" ><tspan font-style="italic">Candida</tspan> iv</text>
<line x1="79.20" y1="369.00" x2="139.50" y2="369.00" stroke="#111" stroke-width="1.25" />
<line x1="170.00" y1="319.00" x2="230.80" y2="319.00" stroke="#111" stroke-width="1.25" />
<path d="M105.60 356.20L108.20 358.80L105.60 361.40L103.00 358.80Z" fill="#fff" stroke="#000" stroke-width="1.2"/>
<path d="M113.50 363.60L116.10 366.20L113.50 368.80L110.90 366.20Z" fill="#fff" stroke="#000" stroke-width="1.2"/>
<path d="M113.50 371.60L116.10 374.20L113.50 376.80L110.90 374.20Z" fill="#fff" stroke="#000" stroke-width="1.2"/>
<path d="M105.60 374.90L108.20 377.50L105.60 380.10L103.00 377.50Z" fill="#fff" stroke="#000" stroke-width="1.2"/>
<path d="M196.50 288.00L199.10 290.60L196.50 293.20L193.90 290.60Z" fill="#fff" stroke="#000" stroke-width="1.2"/>
<path d="M204.20 294.30L206.80 296.90L204.20 299.50L201.60 296.90Z" fill="#fff" stroke="#000" stroke-width="1.2"/>
<path d="M204.20 305.90L206.80 308.50L204.20 311.10L201.60 308.50Z" fill="#fff" stroke="#000" stroke-width="1.2"/>
<path d="M196.50 313.00L199.10 315.60L196.50 318.20L193.90 315.60Z" fill="#fff" stroke="#000" stroke-width="1.2"/>
<path d="M196.50 325.10L199.10 327.70L196.50 330.30L193.90 327.70Z" fill="#fff" stroke="#000" stroke-width="1.2"/>
<path d="M204.20 328.40L206.80 331.00L204.20 333.60L201.60 331.00Z" fill="#fff" stroke="#000" stroke-width="1.2"/>
<path d="M204.20 336.60L206.80 339.20L204.20 341.80L201.60 339.20Z" fill="#fff" stroke="#000" stroke-width="1.2"/>
<path d="M196.50 340.10L199.10 342.70L196.50 345.30L193.90 342.70Z" fill="#fff" stroke="#000" stroke-width="1.2"/>
<text transform="translate(273.10 254.10) scale(1 1.08)" font-size="17.3" font-weight="bold" fill="#000" style="stroke:#000;stroke-width:0.35px">D</text>
<text x="422.90" y="250.70" font-size="10.3" text-anchor="middle" fill="#262626" stroke="#262626" stroke-width="0.15" ><tspan font-style="italic">Candida</tspan> infection <tspan font-style="italic">in vivo</tspan>:</text>
<text x="421.55" y="262.90" font-size="10.38" text-anchor="middle" fill="#262626" stroke="#262626" stroke-width="0.15" >Transferrin Saturation</text>
<line x1="328.50" y1="269.20" x2="328.50" y2="394.10" stroke="#111" stroke-width="1.2" />
<line x1="327.90" y1="393.50" x2="515.70" y2="393.50" stroke="#111" stroke-width="1.25" />
<line x1="326.70" y1="393.60" x2="328.90" y2="393.60" stroke="#000" stroke-width="0.9" />
<text x="326.20" y="396.00" font-size="8.6" text-anchor="end" fill="#262626" stroke="#262626" stroke-width="0.15" >0</text>
<line x1="326.70" y1="368.72" x2="328.90" y2="368.72" stroke="#000" stroke-width="0.9" />
<text x="326.20" y="371.12" font-size="8.6" text-anchor="end" fill="#262626" stroke="#262626" stroke-width="0.15" >20</text>
<line x1="326.70" y1="343.84" x2="328.90" y2="343.84" stroke="#000" stroke-width="0.9" />
<text x="326.20" y="346.24" font-size="8.6" text-anchor="end" fill="#262626" stroke="#262626" stroke-width="0.15" >40</text>
<line x1="326.70" y1="318.96" x2="328.90" y2="318.96" stroke="#000" stroke-width="0.9" />
<text x="326.20" y="321.36" font-size="8.6" text-anchor="end" fill="#262626" stroke="#262626" stroke-width="0.15" >60</text>
<line x1="326.70" y1="294.08" x2="328.90" y2="294.08" stroke="#000" stroke-width="0.9" />
<text x="326.20" y="296.48" font-size="8.6" text-anchor="end" fill="#262626" stroke="#262626" stroke-width="0.15" >80</text>
<line x1="326.70" y1="269.20" x2="328.90" y2="269.20" stroke="#000" stroke-width="0.9" />
<text x="326.20" y="271.60" font-size="8.6" text-anchor="end" fill="#262626" stroke="#262626" stroke-width="0.15" >100</text>
<text x="301.20" y="328.90" font-size="9.8" text-anchor="middle" fill="#262626" stroke="#262626" stroke-width="0.15" transform="rotate(-90 301.20 328.90)" >Transferrin saturation (%)</text>
<path d="M375.5 281.8V277.6H470.75V281.8" fill="none" stroke="#000" stroke-width="1"/>
<circle cx="422.05" cy="270.90" r="1.7" fill="#333"/>
<circle cx="426.95" cy="270.90" r="1.7" fill="#333"/>
<line x1="375.80" y1="393.60" x2="375.80" y2="395.80" stroke="#000" stroke-width="0.9" />
<text x="376.80" y="406.80" font-size="9.8" text-anchor="middle" fill="#262626" stroke="#262626" stroke-width="0.15" >Control PBS iv</text>
<line x1="468.90" y1="393.60" x2="468.90" y2="395.80" stroke="#000" stroke-width="0.9" />
<text x="467.90" y="406.80" font-size="9.8" text-anchor="middle" fill="#262626" stroke="#262626" stroke-width="0.15" ><tspan font-style="italic">Candida</tspan> iv</text>
<line x1="344.60" y1="303.10" x2="406.90" y2="303.10" stroke="#111" stroke-width="1.25" />
<line x1="438.50" y1="375.80" x2="500.80" y2="375.80" stroke="#111" stroke-width="1.25" />
<path d="M368.10 295.70L370.70 298.30L368.10 300.90L365.50 298.30Z" fill="#fff" stroke="#000" stroke-width="1.2"/>
<path d="M375.80 298.00L378.40 300.60L375.80 303.20L373.20 300.60Z" fill="#fff" stroke="#000" stroke-width="1.2"/>
<path d="M383.80 295.30L386.40 297.90L383.80 300.50L381.20 297.90Z" fill="#fff" stroke="#000" stroke-width="1.2"/>
<path d="M375.80 313.90L378.40 316.50L375.80 319.10L373.20 316.50Z" fill="#fff" stroke="#000" stroke-width="1.2"/>
<path d="M453.50 372.50L456.10 375.10L453.50 377.70L450.90 375.10Z" fill="#fff" stroke="#000" stroke-width="1.2"/>
<path d="M461.20 367.90L463.80 370.50L461.20 373.10L458.60 370.50Z" fill="#fff" stroke="#000" stroke-width="1.2"/>
<path d="M461.20 377.70L463.80 380.30L461.20 382.90L458.60 380.30Z" fill="#fff" stroke="#000" stroke-width="1.2"/>
<path d="M468.90 370.20L471.50 372.80L468.90 375.40L466.30 372.80Z" fill="#fff" stroke="#000" stroke-width="1.2"/>
<path d="M468.90 379.70L471.50 382.30L468.90 384.90L466.30 382.30Z" fill="#fff" stroke="#000" stroke-width="1.2"/>
<path d="M476.90 363.90L479.50 366.50L476.90 369.10L474.30 366.50Z" fill="#fff" stroke="#000" stroke-width="1.2"/>
<path d="M476.90 378.20L479.50 380.80L476.90 383.40L474.30 380.80Z" fill="#fff" stroke="#000" stroke-width="1.2"/>
<path d="M484.90 374.60L487.50 377.20L484.90 379.80L482.30 377.20Z" fill="#fff" stroke="#000" stroke-width="1.2"/>
<text transform="translate(4.30 437.40) scale(1 1.08)" font-size="17.3" font-weight="bold" fill="#000" style="stroke:#000;stroke-width:0.35px">E</text>
<text x="159.80" y="441.00" font-size="10.3" text-anchor="middle" fill="#262626" stroke="#262626" stroke-width="0.15" >(<tspan font-style="italic">Candida</tspan> infected mice only)</text>
<line x1="64.50" y1="444.80" x2="64.50" y2="564.10" stroke="#333" stroke-width="1.2" />
<line x1="63.90" y1="563.50" x2="241.00" y2="563.50" stroke="#333" stroke-width="1.25" />
<line x1="62.30" y1="563.50" x2="64.50" y2="563.50" stroke="#000" stroke-width="0.9" />
<text x="62.40" y="565.90" font-size="8.6" text-anchor="end" fill="#262626" stroke="#262626" stroke-width="0.15" >5</text>
<line x1="62.30" y1="533.83" x2="64.50" y2="533.83" stroke="#000" stroke-width="0.9" />
<text x="62.40" y="536.23" font-size="8.6" text-anchor="end" fill="#262626" stroke="#262626" stroke-width="0.15" >10</text>
<line x1="62.30" y1="504.15" x2="64.50" y2="504.15" stroke="#000" stroke-width="0.9" />
<text x="62.40" y="506.55" font-size="8.6" text-anchor="end" fill="#262626" stroke="#262626" stroke-width="0.15" >15</text>
<line x1="62.30" y1="474.48" x2="64.50" y2="474.48" stroke="#000" stroke-width="0.9" />
<text x="62.40" y="476.88" font-size="8.6" text-anchor="end" fill="#262626" stroke="#262626" stroke-width="0.15" >20</text>
<line x1="62.30" y1="444.80" x2="64.50" y2="444.80" stroke="#000" stroke-width="0.9" />
<text x="62.40" y="447.20" font-size="8.6" text-anchor="end" fill="#262626" stroke="#262626" stroke-width="0.15" >25</text>
<line x1="93.56" y1="563.50" x2="93.56" y2="565.70" stroke="#000" stroke-width="0.9" />
<text x="93.56" y="573.80" font-size="8.2" text-anchor="middle" fill="#262626" stroke="#262626" stroke-width="0.15" >40</text>
<line x1="151.78" y1="563.50" x2="151.78" y2="565.70" stroke="#000" stroke-width="0.9" />
<text x="151.78" y="573.80" font-size="8.2" text-anchor="middle" fill="#262626" stroke="#262626" stroke-width="0.15" >60</text>
<line x1="210.00" y1="563.50" x2="210.00" y2="565.70" stroke="#000" stroke-width="0.9" />
<text x="210.00" y="573.80" font-size="8.2" text-anchor="middle" fill="#262626" stroke="#262626" stroke-width="0.15" >80</text>
<line x1="122.67" y1="563.50" x2="122.67" y2="565.00" stroke="#000" stroke-width="0.8" />
<line x1="180.89" y1="563.50" x2="180.89" y2="565.00" stroke="#000" stroke-width="0.8" />
<text x="150.05" y="588.50" font-size="9.4" text-anchor="middle" fill="#262626" stroke="#262626" stroke-width="0.15" >Hepcidin mRNA relative to HPRT-1</text>
<text x="39.10" y="501.50" font-size="9.3" text-anchor="middle" fill="#262626" stroke="#262626" stroke-width="0.15" transform="rotate(-90 39.10 501.50)" >Transferrin saturation (%)</text>
<circle cx="100.20" cy="495.80" r="2.4" fill="#000"/>
<circle cx="107.50" cy="482.20" r="2.4" fill="#000"/>
<circle cx="129.40" cy="515.10" r="2.4" fill="#000"/>
<circle cx="136.50" cy="504.90" r="2.4" fill="#000"/>
<circle cx="166.10" cy="529.30" r="2.4" fill="#000"/>
<circle cx="184.40" cy="532.00" r="2.4" fill="#000"/>
<circle cx="212.00" cy="539.50" r="2.4" fill="#000"/>
<circle cx="227.30" cy="463.90" r="2.4" fill="#000"/>
<text transform="translate(273.10 437.40) scale(1 1.08)" font-size="17.3" font-weight="bold" fill="#000" style="stroke:#000;stroke-width:0.35px">F</text>
<text x="415.20" y="437.20" font-size="10.3" text-anchor="middle" fill="#262626" stroke="#262626" stroke-width="0.15" ><tspan font-style="italic">Candida</tspan> infection <tspan font-style="italic">in vivo</tspan>:</text>
<text x="417.00" y="449.60" font-size="10.38" text-anchor="middle" fill="#262626" stroke="#262626" stroke-width="0.15" >Liver ID1 expression</text>
<line x1="329.50" y1="454.40" x2="329.50" y2="576.10" stroke="#111" stroke-width="1.2" />
<line x1="328.90" y1="575.50" x2="511.50" y2="575.50" stroke="#111" stroke-width="1.25" />
<line x1="327.10" y1="575.40" x2="329.30" y2="575.40" stroke="#000" stroke-width="0.9" />
<text x="326.60" y="577.80" font-size="8.6" text-anchor="end" fill="#262626" stroke="#262626" stroke-width="0.15" >0.00</text>
<line x1="327.10" y1="551.20" x2="329.30" y2="551.20" stroke="#000" stroke-width="0.9" />
<text x="326.60" y="553.60" font-size="8.6" text-anchor="end" fill="#262626" stroke="#262626" stroke-width="0.15" >0.05</text>
<line x1="327.10" y1="527.00" x2="329.30" y2="527.00" stroke="#000" stroke-width="0.9" />
<text x="326.60" y="529.40" font-size="8.6" text-anchor="end" fill="#262626" stroke="#262626" stroke-width="0.15" >0.10</text>
<line x1="327.10" y1="502.80" x2="329.30" y2="502.80" stroke="#000" stroke-width="0.9" />
<text x="326.60" y="505.20" font-size="8.6" text-anchor="end" fill="#262626" stroke="#262626" stroke-width="0.15" >0.15</text>
<line x1="327.10" y1="478.60" x2="329.30" y2="478.60" stroke="#000" stroke-width="0.9" />
<text x="326.60" y="481.00" font-size="8.6" text-anchor="end" fill="#262626" stroke="#262626" stroke-width="0.15" >0.20</text>
<line x1="327.10" y1="454.40" x2="329.30" y2="454.40" stroke="#000" stroke-width="0.9" />
<text x="326.60" y="456.80" font-size="8.6" text-anchor="end" fill="#262626" stroke="#262626" stroke-width="0.15" >0.25</text>
<text x="291.70" y="514.80" font-size="9.5" text-anchor="middle" fill="#262626" stroke="#262626" stroke-width="0.15" transform="rotate(-90 291.70 514.80)" >ID1 mRNA expression</text>
<text x="303.60" y="514.80" font-size="9.5" text-anchor="middle" fill="#262626" stroke="#262626" stroke-width="0.15" transform="rotate(-90 303.60 514.80)" >relative to HPRT-1</text>
<line x1="375.20" y1="575.40" x2="375.20" y2="577.60" stroke="#000" stroke-width="0.9" />
<text x="375.50" y="588.80" font-size="9.8" text-anchor="middle" fill="#262626" stroke="#262626" stroke-width="0.15" >Control PBS iv</text>
<line x1="466.20" y1="575.40" x2="466.20" y2="577.60" stroke="#000" stroke-width="0.9" />
<text x="466.20" y="588.80" font-size="9.8" text-anchor="middle" fill="#262626" stroke="#262626" stroke-width="0.15" ><tspan font-style="italic">Candida</tspan> iv</text>
<line x1="344.60" y1="515.80" x2="405.00" y2="515.80" stroke="#111" stroke-width="1.25" />
<line x1="435.30" y1="512.40" x2="495.80" y2="512.40" stroke="#111" stroke-width="1.25" />
<path d="M374.80 474.70L377.40 477.30L374.80 479.90L372.20 477.30Z" fill="#fff" stroke="#000" stroke-width="1.2"/>
<path d="M374.80 518.00L377.40 520.60L374.80 523.20L372.20 520.60Z" fill="#fff" stroke="#000" stroke-width="1.2"/>
<path d="M378.70 523.40L381.30 526.00L378.70 528.60L376.10 526.00Z" fill="#fff" stroke="#000" stroke-width="1.2"/>
<path d="M371.00 528.60L373.60 531.20L371.00 533.80L368.40 531.20Z" fill="#fff" stroke="#000" stroke-width="1.2"/>
<path d="M465.80 482.30L468.40 484.90L465.80 487.50L463.20 484.90Z" fill="#fff" stroke="#000" stroke-width="1.2"/>
<path d="M469.70 497.80L472.30 500.40L469.70 503.00L467.10 500.40Z" fill="#fff" stroke="#000" stroke-width="1.2"/>
<path d="M461.80 504.20L464.40 506.80L461.80 509.40L459.20 506.80Z" fill="#fff" stroke="#000" stroke-width="1.2"/>
<path d="M473.40 507.70L476.00 510.30L473.40 512.90L470.80 510.30Z" fill="#fff" stroke="#000" stroke-width="1.2"/>
<path d="M458.20 512.80L460.80 515.40L458.20 518.00L455.60 515.40Z" fill="#fff" stroke="#000" stroke-width="1.2"/>
<path d="M465.80 512.80L468.40 515.40L465.80 518.00L463.20 515.40Z" fill="#fff" stroke="#000" stroke-width="1.2"/>
<path d="M469.70 518.60L472.30 521.20L469.70 523.80L467.10 521.20Z" fill="#fff" stroke="#000" stroke-width="1.2"/>
<path d="M461.80 525.00L464.40 527.60L461.80 530.20L459.20 527.60Z" fill="#fff" stroke="#000" stroke-width="1.2"/>
<text transform="translate(4.80 632.00) scale(1 1.08)" font-size="17.3" font-weight="bold" fill="#000" style="stroke:#000;stroke-width:0.35px">G</text>
<text x="155.45" y="619.80" font-size="10.3" text-anchor="middle" fill="#262626" stroke="#262626" stroke-width="0.15" ><tspan font-style="italic">Candida</tspan> infection <tspan font-style="italic">in vivo</tspan>:</text>
<text x="156.90" y="631.80" font-size="10.38" text-anchor="middle" fill="#262626" stroke="#262626" stroke-width="0.15" >Liver Fibrinogen alpha chain expression</text>
<line x1="62.50" y1="639.60" x2="62.50" y2="761.10" stroke="#111" stroke-width="1.2" />
<line x1="61.90" y1="760.50" x2="245.20" y2="760.50" stroke="#111" stroke-width="1.25" />
<line x1="60.60" y1="760.80" x2="62.80" y2="760.80" stroke="#000" stroke-width="0.9" />
<text x="60.10" y="763.20" font-size="8.6" text-anchor="end" fill="#262626" stroke="#262626" stroke-width="0.15" >0</text>
<line x1="60.60" y1="730.50" x2="62.80" y2="730.50" stroke="#000" stroke-width="0.9" />
<text x="60.10" y="732.90" font-size="8.6" text-anchor="end" fill="#262626" stroke="#262626" stroke-width="0.15" >200</text>
<line x1="60.60" y1="700.20" x2="62.80" y2="700.20" stroke="#000" stroke-width="0.9" />
<text x="60.10" y="702.60" font-size="8.6" text-anchor="end" fill="#262626" stroke="#262626" stroke-width="0.15" >400</text>
<line x1="60.60" y1="669.90" x2="62.80" y2="669.90" stroke="#000" stroke-width="0.9" />
<text x="60.10" y="672.30" font-size="8.6" text-anchor="end" fill="#262626" stroke="#262626" stroke-width="0.15" >600</text>
<line x1="60.60" y1="639.60" x2="62.80" y2="639.60" stroke="#000" stroke-width="0.9" />
<text x="60.10" y="642.00" font-size="8.6" text-anchor="end" fill="#262626" stroke="#262626" stroke-width="0.15" >800</text>
<text x="27.70" y="697.80" font-size="9.5" text-anchor="middle" fill="#262626" stroke="#262626" stroke-width="0.15" transform="rotate(-90 27.70 697.80)" >Fga mRNA expression</text>
<text x="38.70" y="697.80" font-size="9.5" text-anchor="middle" fill="#262626" stroke="#262626" stroke-width="0.15" transform="rotate(-90 38.70 697.80)" >relative to HPRT-1</text>
<path d="M103.8 658.2V653.8H199.3V658.2" fill="none" stroke="#000" stroke-width="1"/>
<circle cx="149.85" cy="648.10" r="1.7" fill="#333"/>
<circle cx="154.75" cy="648.10" r="1.7" fill="#333"/>
<line x1="108.10" y1="760.80" x2="108.10" y2="763.00" stroke="#000" stroke-width="0.9" />
<text x="109.00" y="774.30" font-size="9.8" text-anchor="middle" fill="#262626" stroke="#262626" stroke-width="0.15" >Control PBS iv</text>
<line x1="199.30" y1="760.80" x2="199.30" y2="763.00" stroke="#000" stroke-width="0.9" />
<text x="199.30" y="774.30" font-size="9.8" text-anchor="middle" fill="#262626" stroke="#262626" stroke-width="0.15" ><tspan font-style="italic">Candida</tspan> iv</text>
<line x1="77.90" y1="755.80" x2="138.80" y2="755.80" stroke="#111" stroke-width="1.25" />
<line x1="169.00" y1="689.70" x2="230.00" y2="689.70" stroke="#111" stroke-width="1.25" />
<path d="M96.90 751.20L99.50 753.80L96.90 756.40L94.30 753.80Z" fill="#fff" stroke="#000" stroke-width="1.2"/>
<path d="M104.60 752.80L107.20 755.40L104.60 758.00L102.00 755.40Z" fill="#fff" stroke="#000" stroke-width="1.2"/>
<path d="M112.30 751.20L114.90 753.80L112.30 756.40L109.70 753.80Z" fill="#fff" stroke="#000" stroke-width="1.2"/>
<path d="M120.00 750.50L122.60 753.10L120.00 755.70L117.40 753.10Z" fill="#fff" stroke="#000" stroke-width="1.2"/>
<path d="M199.30 668.50L201.90 671.10L199.30 673.70L196.70 671.10Z" fill="#fff" stroke="#000" stroke-width="1.2"/>
<path d="M191.70 675.50L194.30 678.10L191.70 680.70L189.10 678.10Z" fill="#fff" stroke="#000" stroke-width="1.2"/>
<path d="M206.70 673.80L209.30 676.40L206.70 679.00L204.10 676.40Z" fill="#fff" stroke="#000" stroke-width="1.2"/>
<path d="M199.30 678.00L201.90 680.60L199.30 683.20L196.70 680.60Z" fill="#fff" stroke="#000" stroke-width="1.2"/>
<path d="M199.30 686.50L201.90 689.10L199.30 691.70L196.70 689.10Z" fill="#fff" stroke="#000" stroke-width="1.2"/>
<path d="M195.50 693.50L198.10 696.10L195.50 698.70L192.90 696.10Z" fill="#fff" stroke="#000" stroke-width="1.2"/>
<path d="M203.30 695.20L205.90 697.80L203.30 700.40L200.70 697.80Z" fill="#fff" stroke="#000" stroke-width="1.2"/>
<path d="M199.30 709.30L201.90 711.90L199.30 714.50L196.70 711.90Z" fill="#fff" stroke="#000" stroke-width="1.2"/>
<text transform="translate(273.10 632.00) scale(1 1.08)" font-size="17.3" font-weight="bold" fill="#000" style="stroke:#000;stroke-width:0.35px">H</text>
<text x="422.90" y="630.00" font-size="10.3" text-anchor="middle" fill="#262626" stroke="#262626" stroke-width="0.15" >(<tspan font-style="italic">Candida</tspan> infected mice only)</text>
<text x="340.60" y="650.60" font-size="10.1" text-anchor="start" fill="#262626" stroke="#262626" stroke-width="0.15" >R-square = 0.7375</text>
<text x="340.60" y="663.80" font-size="10.0" text-anchor="start" fill="#262626" stroke="#262626" stroke-width="0.15" >p = 0.0063</text>
<line x1="329.50" y1="627.20" x2="329.50" y2="748.10" stroke="#2a2a2a" stroke-width="1.2" />
<line x1="328.90" y1="747.50" x2="510.40" y2="747.50" stroke="#2a2a2a" stroke-width="1.25" />
<line x1="326.80" y1="747.20" x2="329.00" y2="747.20" stroke="#000" stroke-width="0.9" />
<text x="326.30" y="749.60" font-size="8.6" text-anchor="end" fill="#262626" stroke="#262626" stroke-width="0.15" >300</text>
<line x1="326.80" y1="717.20" x2="329.00" y2="717.20" stroke="#000" stroke-width="0.9" />
<text x="326.30" y="719.60" font-size="8.6" text-anchor="end" fill="#262626" stroke="#262626" stroke-width="0.15" >400</text>
<line x1="326.80" y1="687.20" x2="329.00" y2="687.20" stroke="#000" stroke-width="0.9" />
<text x="326.30" y="689.60" font-size="8.6" text-anchor="end" fill="#262626" stroke="#262626" stroke-width="0.15" >500</text>
<line x1="326.80" y1="657.20" x2="329.00" y2="657.20" stroke="#000" stroke-width="0.9" />
<text x="326.30" y="659.60" font-size="8.6" text-anchor="end" fill="#262626" stroke="#262626" stroke-width="0.15" >600</text>
<line x1="326.80" y1="627.20" x2="329.00" y2="627.20" stroke="#000" stroke-width="0.9" />
<text x="326.30" y="629.60" font-size="8.6" text-anchor="end" fill="#262626" stroke="#262626" stroke-width="0.15" >700</text>
<line x1="359.20" y1="747.20" x2="359.20" y2="749.40" stroke="#000" stroke-width="0.9" />
<text x="359.20" y="758.00" font-size="8.2" text-anchor="middle" fill="#262626" stroke="#262626" stroke-width="0.15" >40</text>
<line x1="419.60" y1="747.20" x2="419.60" y2="749.40" stroke="#000" stroke-width="0.9" />
<text x="419.60" y="758.00" font-size="8.2" text-anchor="middle" fill="#262626" stroke="#262626" stroke-width="0.15" >60</text>
<line x1="480.00" y1="747.20" x2="480.00" y2="749.40" stroke="#000" stroke-width="0.9" />
<text x="480.00" y="758.00" font-size="8.2" text-anchor="middle" fill="#262626" stroke="#262626" stroke-width="0.15" >80</text>
<line x1="389.40" y1="747.20" x2="389.40" y2="748.70" stroke="#000" stroke-width="0.8" />
<line x1="449.80" y1="747.20" x2="449.80" y2="748.70" stroke="#000" stroke-width="0.8" />
<text x="419.15" y="771.80" font-size="9.44" text-anchor="middle" fill="#262626" stroke="#262626" stroke-width="0.15" >Hepcidin mRNA relative to HPRT-1</text>
<text x="294.10" y="681.70" font-size="9.0" text-anchor="middle" fill="#262626" stroke="#262626" stroke-width="0.15" transform="rotate(-90 294.10 681.70)" >Fga mRNA expression</text>
<text x="305.40" y="681.70" font-size="9.0" text-anchor="middle" fill="#262626" stroke="#262626" stroke-width="0.15" transform="rotate(-90 305.40 681.70)" >relative to HPRT-1</text>
<circle cx="365.40" cy="712.00" r="2.5" fill="#000"/>
<circle cx="373.10" cy="740.20" r="2.5" fill="#000"/>
<circle cx="395.10" cy="708.30" r="2.5" fill="#000"/>
<circle cx="402.20" cy="694.50" r="2.5" fill="#000"/>
<circle cx="432.50" cy="678.20" r="2.5" fill="#000"/>
<circle cx="451.10" cy="659.00" r="2.5" fill="#000"/>
<circle cx="479.30" cy="672.50" r="2.5" fill="#000"/>
<circle cx="494.90" cy="669.00" r="2.5" fill="#000"/></svg>
</body></html>
